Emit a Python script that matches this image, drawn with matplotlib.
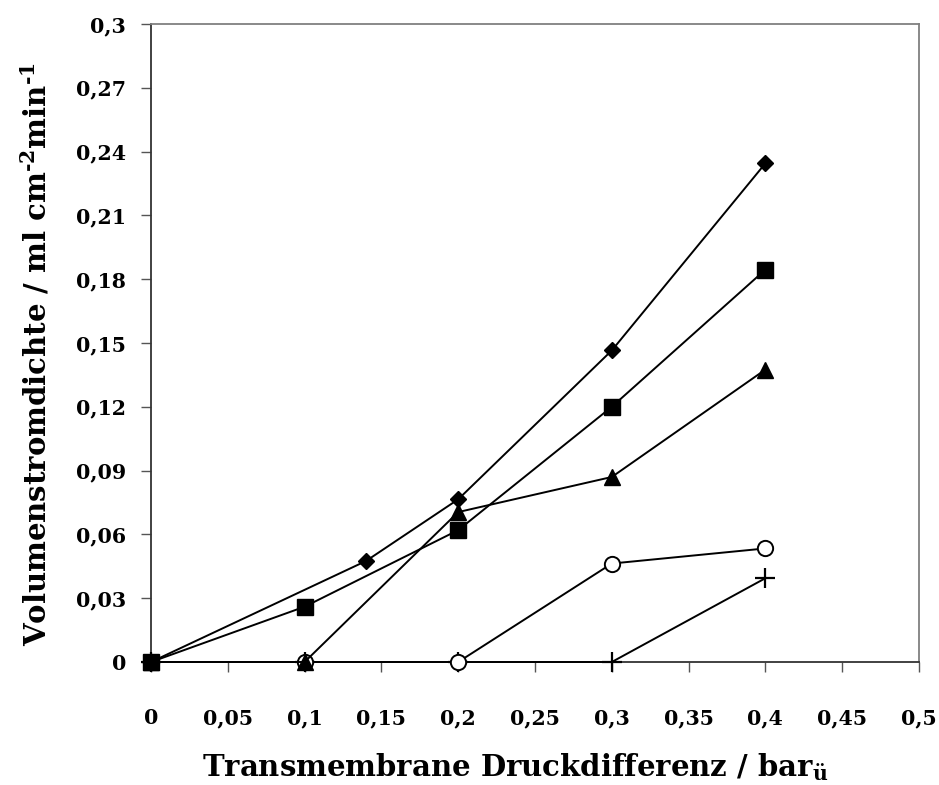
import matplotlib
matplotlib.use("Agg")
import matplotlib.pyplot as plt

# Data
x_diamond = [0, 0.14, 0.2, 0.3, 0.4]
y_diamond = [0, 0.0475, 0.0765, 0.1465, 0.2345]

x_square = [0, 0.1, 0.2, 0.3, 0.4]
y_square = [0, 0.026, 0.062, 0.120, 0.1845]

x_triangle = [0, 0.1, 0.2, 0.3, 0.4]
y_triangle = [0, 0, 0.0705, 0.087, 0.1375]

x_circle = [0, 0.1, 0.2, 0.3, 0.4]
y_circle = [0, 0, 0, 0.0463, 0.0534]

x_plus = [0, 0.1, 0.2, 0.3, 0.4]
y_plus = [0, 0, 0, 0, 0.0394]

x_ticks = [0, 0.05, 0.1, 0.15, 0.2, 0.25, 0.3, 0.35, 0.4, 0.45, 0.5]
x_ticklabels = ["0", "0,05", "0,1", "0,15", "0,2", "0,25", "0,3", "0,35", "0,4", "0,45", "0,5"]
y_ticks = [0, 0.03, 0.06, 0.09, 0.12, 0.15, 0.18, 0.21, 0.24, 0.27, 0.3]
y_ticklabels = ["0", "0,03", "0,06", "0,09", "0,12", "0,15", "0,18", "0,21", "0,24", "0,27", "0,3"]

plt.rcParams['font.family'] = ['DejaVu Serif']
plt.rcParams['mathtext.fontset'] = 'custom'
plt.rcParams['mathtext.rm'] = 'DejaVu Serif:bold'
plt.rcParams['mathtext.bf'] = 'DejaVu Serif:bold'
plt.rcParams['mathtext.it'] = 'DejaVu Serif:bold:italic'

W, H = 939, 785
fig = plt.figure(figsize=(W/100, H/100), dpi=100)
ax = fig.add_axes([151/W, 1-662/H, (919-151)/W, (662-24)/H])

lw = 1.4
common = dict(color='black', lw=lw, clip_on=False)
ax.plot(x_plus, y_plus, marker='+', ms=15, mew=1.6, zorder=3, **common)
ax.plot(x_circle, y_circle, marker='o', ms=11, mfc='white', mec='black', mew=1.4, zorder=3, **common)
ax.plot(x_triangle, y_triangle, marker='^', ms=12, mfc='black', mec='black', zorder=4, **common)
ax.plot(x_square, y_square, marker='s', ms=11, mfc='black', mec='black', zorder=4, **common)
ax.plot(x_diamond, y_diamond, marker='D', ms=8, mfc='black', mec='black', zorder=5, **common)

ax.set_xlim(0, 0.5)
ax.set_ylim(0, 0.3)
ax.set_xticks(x_ticks)
ax.set_xticklabels(x_ticklabels)
ax.set_yticks(y_ticks)
ax.set_yticklabels(y_ticklabels)

for lab in ax.get_xticklabels() + ax.get_yticklabels():
    lab.set_fontweight('bold')
    lab.set_fontsize(14.8)

ax.tick_params(axis='both', direction='out', length=7.2, width=1, color='#555555')
ax.tick_params(axis='x', pad=26)
ax.tick_params(axis='y', pad=10.8)

ax.spines['left'].set_color('#333333')
ax.spines['bottom'].set_color('#333333')
ax.spines['top'].set_color('#808080')
ax.spines['right'].set_color('#808080')
for s in ax.spines.values():
    s.set_linewidth(1.3)

fig.text(515/W, 1-767/H, 'Transmembrane Druckdifferenz / bar$_{\\mathrm{ü}}$',
         fontsize=21, fontweight='bold', ha='center', va='center')
fig.text(36/W, 1-354/H, 'Volumenstromdichte / ml cm$^{\\text{-2}}$min$^{\\text{-1}}$',
         fontsize=21, fontweight='bold', ha='center', va='center', rotation=90)

fig.savefig('out.png', dpi=100)
